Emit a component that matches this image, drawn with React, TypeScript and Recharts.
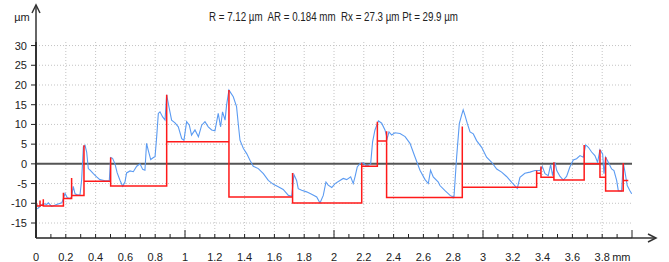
import React from 'react';
import { LineChart, Line, XAxis, YAxis, ReferenceLine } from 'recharts';

// ---- Data ----
const profileX = [
  0.009, 0.027, 0.049, 0.072, 0.083, 0.105, 0.138, 0.173, 0.184, 0.195, 0.21, 0.228, 0.239, 0.25, 0.262, 0.273, 0.295,
  0.306, 0.318, 0.329, 0.34, 0.351, 0.363, 0.385, 0.407, 0.429, 0.463, 0.492, 0.501, 0.514, 0.53, 0.545, 0.564, 0.582,
  0.597, 0.608, 0.631, 0.653, 0.676, 0.698, 0.716, 0.731, 0.742, 0.753, 0.77, 0.788, 0.799, 0.81, 0.821, 0.832, 0.85,
  0.866, 0.877, 0.888, 0.899, 0.91, 0.933, 0.955, 0.978, 0.993, 1.011, 1.029, 1.044, 1.067, 1.09, 1.112, 1.134, 1.156,
  1.179, 1.201, 1.223, 1.239, 1.252, 1.269, 1.279, 1.295,
  1.324, 1.346, 1.357, 1.369, 1.392, 1.414, 1.436, 1.458, 1.492, 1.526, 1.559, 1.593, 1.626, 1.659, 1.694, 1.716, 1.731,
  1.749, 1.76, 1.783, 1.816, 1.85, 1.884, 1.906, 1.928, 1.946, 1.961, 1.985, 2.007, 2.04, 2.062, 2.085, 2.112, 2.129,
  2.141, 2.156, 2.175, 2.197, 2.219, 2.246, 2.259, 2.275, 2.298, 2.32, 2.342, 2.357, 2.369, 2.387, 2.409, 2.443, 2.477,
  2.51, 2.543, 2.577, 2.611, 2.633, 2.648, 2.666, 2.7,
  2.711, 2.745, 2.779, 2.805, 2.823, 2.841, 2.856, 2.867, 2.879, 2.895, 2.913, 2.935, 2.957, 2.991, 3.024, 3.058, 3.092,
  3.125, 3.158, 3.193, 3.23, 3.248, 3.281, 3.315, 3.349, 3.382, 3.398, 3.416, 3.438, 3.454, 3.467, 3.483, 3.495, 3.517,
  3.539, 3.561, 3.583, 3.606, 3.628, 3.651, 3.673, 3.689, 3.707, 3.729, 3.751, 3.769, 3.785, 3.803, 3.812, 3.823, 3.841,
  3.863, 3.879, 3.897, 3.908, 3.93, 3.942, 3.953, 3.968, 3.986, 3.998,
];
const profileY = [
  -11.4, -10.8, -10.1, -10.3, -9.9, -10.8, -10.3, -9.9, -8.8, -7.5, -8.6, -8.8, -8.4, -5.7, -7.6, -7.8, -8.0,
  -4.2, 4.3, 4.7, 3.0, -1.2, -1.6, -2.5, -3.3, -4.0, -4.3, -4.2, 1.6, 1.4, 0.0, -2.3, -4.2, -5.7,
  -4.6, -2.3, -1.8, -2.0, -0.6, 0.0, -1.4, -1.6, 5.2, 3.5, 1.1, 1.6, 1.8, 6.9, 12.8, 13.2, 11.9,
  11.1, 17.5, 15.3, 13.2, 11.1, 10.4, 9.4, 6.4, 6.0, 10.7, 9.8, 7.3, 8.6, 6.9, 9.8, 10.7, 9.4,
  8.6, 8.4, 12.8, 9.4, 13.2, 11.1, 14.9, 18.7,
  17.0, 14.5, 10.3, 6.0, 3.9, 2.6, 0.9, -0.6, -1.2, -2.5, -4.2, -5.2, -5.8, -6.5, -8.0, -8.2, -2.7,
  -4.2, -6.3, -6.7, -7.1, -7.7, -8.4, -9.9, -8.0, -4.6, -5.4, -6.0, -5.0, -4.2, -3.7, -4.0, -3.3, -5.0,
  -3.3, -0.8, 0.1, 0.25, -0.6, 0.0, 5.6, 8.6, 10.9, 10.3, 8.6, 6.4, 8.1, 7.3, 7.9, 7.7, 6.9,
  5.2, 1.8, -1.6, -4.0, -5.0, -1.6, -3.3, -4.6,
  -5.5, -6.8, -8.0, -8.5, 1.7, 10.2, 12.3, 13.7, 12.3, 10.2, 8.1, 7.6, 5.9, 4.2, 1.7, 0.4, -1.3,
  -2.1, -3.2, -4.7, -6.2, -3.4, -2.4, -2.1, -1.7, -1.7, -0.7, -2.5, -3.0, -0.2, -3.0, 0.4, -1.7, -3.2,
  -4.1, -3.2, -0.8, 1.0, 1.3, 2.1, 1.7, 4.8, 4.2, 3.0, 2.1, 0.4, 3.6, 2.5, -2.5, 1.7, 0.4,
  -1.3, -1.7, -4.2, -6.8, -6.9, 0.2, -2.1, -5.5, -6.8, -7.6,
];

// Motifs: start position, peak at the left boundary, level of the motif
const motifX = [0.005, 0.027, 0.049, 0.184, 0.239, 0.322, 0.501, 0.877, 1.295, 1.722, 2.186, 2.291, 2.353, 2.861, 3.36, 3.389, 3.476, 3.679, 3.785, 3.823, 3.941];
const motifPeak = [-10.0, -9.3, -9.0, -7.3, -3.6, 4.7, 1.6, 17.5, 18.7, -2.3, 0.25, 10.7, 8.3, 9.5, -1.7, -0.7, 0.4, 4.8, 3.6, 1.7, 0.2];
const motifLevel = [-10.7, -10.5, -10.7, -8.8, -8.0, -4.4, -5.6, 5.6, -8.4, -9.9, -0.6, 5.8, -8.5, -5.9, -2.4, -3.4, -4.1, 0.0, -3.4, -6.9, -4.2];
const motifEnd = 3.975;

const xTickLabels = ['0', '0.2', '0.4', '0.6', '0.8', '1', '1.2', '1.4', '1.6', '1.8', '2', '2.2', '2.4', '2.6', '2.8', '3', '3.2', '3.4', '3.6', '3.8'];
const yTickLabels = ['-15', '-10', '-5', '0', '5', '10', '15', '20', '25', '30'];
const xUnit = 'mm';
const yUnit = 'µm';
const titleText = 'R = 7.12 µm  AR = 0.184 mm  Rx = 27.3 µm Pt = 29.9 µm';

const X_DOMAIN: [number, number] = [0, 4];
const Y_DOMAIN: [number, number] = [-18.8, 30.9];

// ---- Derived tables ----
const profileData = profileX.map((x, i) => ({ x, y: profileY[i] }));
const motifData: { x: number; y: number }[] = [];
motifX.forEach((x, i) => {
  if (i > 0) motifData.push({ x, y: motifLevel[i - 1] });
  motifData.push({ x, y: motifPeak[i] });
  motifData.push({ x, y: motifLevel[i] });
});
motifData.push({ x: motifEnd, y: motifLevel[motifLevel.length - 1] });

const xMinorTicks = Array.from({ length: 41 }, (_, i) => i / 10);
const xLabelValues = xTickLabels.map(Number);
const yTickValues = yTickLabels.map(Number);

const FONT = '"Liberation Sans", Arial, sans-serif';
const NARROW = '"Liberation Sans Narrow", "Liberation Sans", Arial, sans-serif';
const AXIS = '#222';
const W = 669;
const H = 262;

const BottomTick = (props: any) => {
  const { x, y, payload } = props;
  const v = payload.value as number;
  const major = Number.isInteger(v);
  const li = xLabelValues.indexOf(v);
  return (
    <g>
      <line x1={x} x2={x} y1={y} y2={y - (major ? 8 : 4)} stroke={AXIS} strokeWidth={1} />
      {li >= 0 && (
        <text x={x} y={y + 23} textAnchor="middle" fontSize={11} fontFamily={FONT} fill="#222">
          {xTickLabels[li]}
        </text>
      )}
      {li === xTickLabels.length - 1 && (
        <text x={x + 10} y={y + 23} textAnchor="start" fontSize={11} fontFamily={FONT} fill="#222">
          {xUnit}
        </text>
      )}
    </g>
  );
};

const TopTick = (props: any) => {
  const { x, y, payload } = props;
  const v = payload.value as number;
  const major = Number.isInteger(v);
  return <line x1={x} x2={x} y1={y} y2={y - (major ? 7 : 3.5)} stroke={AXIS} strokeWidth={1} />;
};

const LeftTick = (props: any) => {
  const { x, y, payload } = props;
  const li = yTickValues.indexOf(payload.value);
  return (
    <g>
      <line x1={x - 5} x2={x} y1={y} y2={y} stroke={AXIS} strokeWidth={1} />
      <text x={x - 9} y={y} dy="0.36em" textAnchor="end" fontSize={11} fontFamily={FONT} fill="#222">
        {yTickLabels[li]}
      </text>
    </g>
  );
};

const RightTick = (props: any) => {
  const { x, y } = props;
  return <line x1={x} x2={x + 6} y1={y} y2={y} stroke={AXIS} strokeWidth={1} />;
};

const gridX = xLabelValues.filter((v) => v > 0);
const gridY = yTickValues.filter((v) => v !== 0);

export default function App() {
  return (
    <div style={{ position: 'absolute', left: 0, top: 0, width: W, height: H, background: '#fff' }}>
      <LineChart width={W} height={H} margin={{ top: 42, right: 37, bottom: 0, left: 0 }}>
        <XAxis
          dataKey="x"
          type="number"
          domain={X_DOMAIN}
          allowDataOverflow
          ticks={xMinorTicks}
          interval={0}
          height={24}
          tickSize={0}
          tickMargin={0}
          tickLine={false}
          axisLine={{ stroke: AXIS, strokeWidth: 1.5 }}
          tick={BottomTick}
        />
        <XAxis
          xAxisId="top"
          orientation="top"
          dataKey="x"
          type="number"
          domain={X_DOMAIN}
          allowDataOverflow
          ticks={xMinorTicks}
          interval={0}
          height={0}
          tickSize={0}
          tickMargin={0}
          tickLine={false}
          axisLine={{ stroke: AXIS, strokeWidth: 1.5 }}
          tick={TopTick}
        />
        <YAxis
          type="number"
          domain={Y_DOMAIN}
          allowDataOverflow
          ticks={yTickValues}
          interval={0}
          width={36}
          tickSize={0}
          tickMargin={0}
          tickLine={false}
          axisLine={{ stroke: '#333', strokeWidth: 2 }}
          tick={LeftTick}
        />
        <YAxis
          yAxisId="right"
          orientation="right"
          type="number"
          domain={Y_DOMAIN}
          allowDataOverflow
          ticks={yTickValues}
          interval={0}
          width={0}
          tickSize={0}
          tickMargin={0}
          tickLine={false}
          axisLine={{ stroke: AXIS, strokeWidth: 1.5 }}
          tick={RightTick}
        />
        {gridX.map((v) => (
          <ReferenceLine key={'gx' + v} x={v} stroke="#c4c4c4" strokeDasharray="1 2" strokeWidth={1} />
        ))}
        {gridY.map((v) => (
          <ReferenceLine key={'gy' + v} y={v} stroke="#c4c4c4" strokeDasharray="1 2" strokeWidth={1} />
        ))}
        <ReferenceLine y={0} stroke="#555" strokeWidth={2} />
        <Line
          data={profileData}
          dataKey="y"
          type="linear"
          stroke="#5b9bf2"
          strokeWidth={1.1}
          dot={false}
          activeDot={false}
          isAnimationActive={false}
        />
        <Line
          data={motifData}
          dataKey="y"
          type="linear"
          stroke="#ff1a1a"
          strokeWidth={1.5}
          dot={false}
          activeDot={false}
          isAnimationActive={false}
        />
      </LineChart>
      <svg width={W} height={H} style={{ position: 'absolute', left: 0, top: 0, pointerEvents: 'none' }}>
        <text
          x={333.5}
          y={21}
          textAnchor="middle"
          fontSize={12.5}
          fontFamily={NARROW}
          fill="#222"
          textLength={249}
          lengthAdjust="spacingAndGlyphs"
          style={{ whiteSpace: 'pre' }}
        >
          {titleText}
        </text>
        <text x={22} y={21} textAnchor="middle" fontSize={11} fontFamily={FONT} fill="#222">
          {yUnit}
        </text>
        <g stroke="#333" strokeWidth={1.5} fill="none">
          <line x1={36} y1={42} x2={36} y2={5} />
          <polyline points="32,13 36,5 40,13" />
          <line x1={632} y1={238} x2={656} y2={238} />
          <polyline points="648,234 656,238 648,242" />
        </g>
      </svg>
    </div>
  );
}
